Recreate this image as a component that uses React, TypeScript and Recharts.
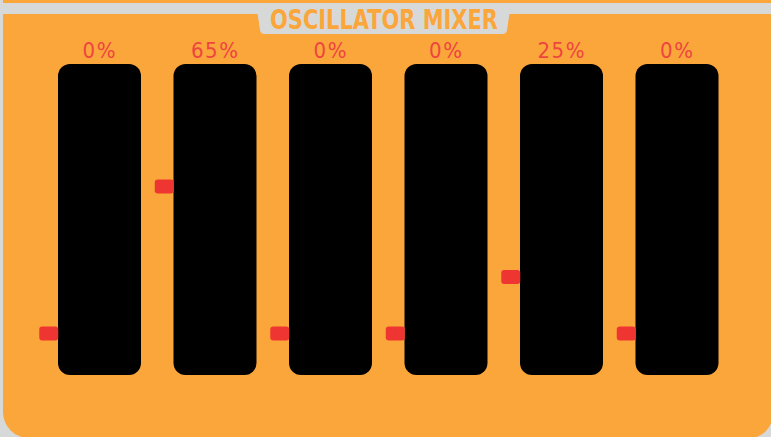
import { ComposedChart, Bar, Scatter, XAxis, YAxis } from "recharts"

// mixer channels and their levels (%)
const channels = ["OSC 1", "OSC 2", "OSC 3", "OSC 4", "OSC 5", "OSC 6"]
const levels = [0, 65, 0, 0, 25, 0]
const levelLabels = ["0%", "65%", "0%", "0%", "25%", "0%"]

// slider track extends a bit past 0..100
const trackMin = -18.4
const trackMax = 119.2

const ORANGE = "#fba63a"
const GREY = "#d7d9d8"
const RED = "#ef3531"
const LABEL_RED = "#ee4540"
const SLIDER_W = 83

const data = channels.map((name, i) => ({
  name,
  level: levels[i],
  track: [trackMin, trackMax],
}))

const LevelTick = ({ x, y, payload }: any) => {
  const label = levelLabels[payload.index]
  return (
    <text
      x={x}
      y={y}
      dy={2}
      textAnchor="middle"
      fill={LABEL_RED}
      fontSize={22}
      fontFamily="'DejaVu Sans Condensed', 'Liberation Sans Narrow', sans-serif"
      letterSpacing={1.5}
    >
      {label}
    </text>
  )
}

const SliderTrack = (props: any) => {
  const { x, y, width, height } = props
  return <rect x={x} y={y} width={width} height={height} rx={12} ry={12} fill="#000" />
}

const Handle = (props: any) => {
  const { cx, cy } = props
  if (cx == null || cy == null) return null
  return (
    <rect
      x={cx - SLIDER_W / 2 - 19}
      y={cy - 7}
      width={19}
      height={14}
      rx={3}
      ry={3}
      fill={RED}
    />
  )
}

export default function App() {
  return (
    <div
      style={{
        position: "absolute",
        left: 0,
        top: 0,
        width: 771,
        height: 437,
        background: GREY,
        overflow: "hidden",
      }}
    >
      {/* bottom edge of the panel above */}
      <div style={{ position: "absolute", left: 3, top: 0, right: 0, height: 3, background: ORANGE }} />
      {/* mixer panel */}
      <div
        style={{
          position: "absolute",
          left: 3,
          top: 14,
          width: 770,
          height: 424,
          background: ORANGE,
          borderRadius: "0 0 24px 26px",
        }}
      />
      {/* title tab */}
      <svg
        width={771}
        height={40}
        style={{ position: "absolute", left: 0, top: 0 }}
      >
        <path
          d="M257 10 L510 10 L507 30 Q506.5 34 502 34 L265 34 Q260.5 34 260 30 Z"
          fill={GREY}
        />
        <text
          x={384}
          y={29}
          textAnchor="middle"
          fill={ORANGE}
          fontSize={26}
          fontWeight="bold"
          fontFamily="'Liberation Sans Narrow', 'DejaVu Sans Condensed', sans-serif"
          textLength={228}
          lengthAdjust="spacingAndGlyphs"
        >
          OSCILLATOR MIXER
        </text>
      </svg>
      <div style={{ position: "absolute", left: 0, top: 0 }}>
        <ComposedChart
          width={771}
          height={437}
          data={data}
          margin={{ top: 34, right: 36, left: 42, bottom: 62 }}
          barSize={SLIDER_W}
        >
          <XAxis
            dataKey="name"
            orientation="top"
            height={30}
            axisLine={false}
            tickLine={false}
            tick={<LevelTick />}
            interval={0}
          />
          <YAxis hide domain={[trackMin, trackMax]} allowDataOverflow />
          <Bar
            dataKey="track"
            shape={<SliderTrack />}
            isAnimationActive={false}
          />
          <Scatter dataKey="level" shape={<Handle />} isAnimationActive={false} />
        </ComposedChart>
      </div>
    </div>
  )
}
